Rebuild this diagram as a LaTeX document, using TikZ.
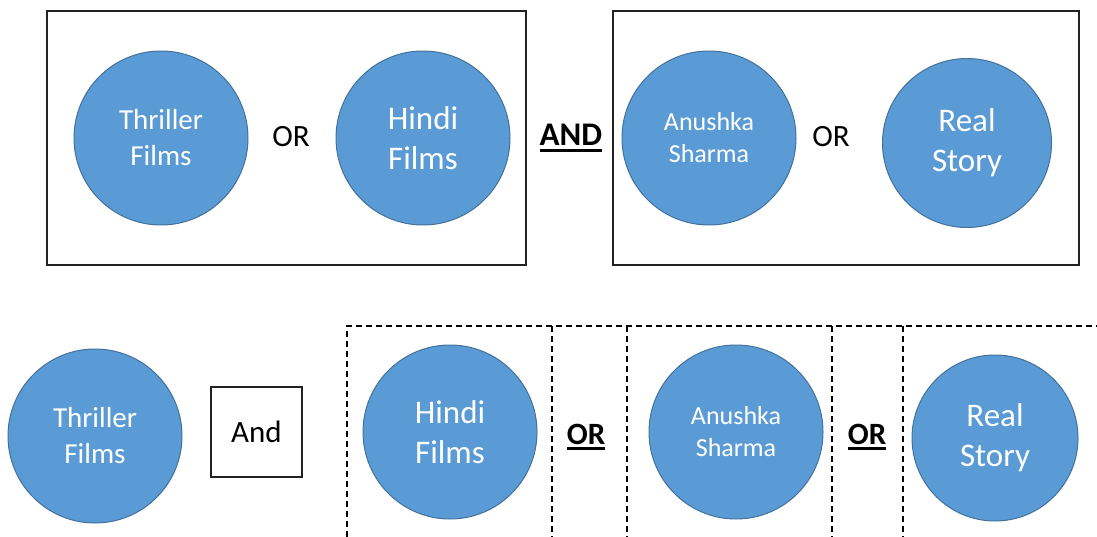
\documentclass[tikz,border=0pt]{standalone}
\usepackage{fontspec}
\setmainfont{Carlito}
\definecolor{circfill}{HTML}{5B9BD5}
\definecolor{circline}{HTML}{41719C}
\definecolor{boxline}{HTML}{222222}
\newcommand\ThickUL[1]{\setbox0=\hbox{#1}\leavevmode\rlap{\rule[-6pt]{\wd0}{2.8pt}}\box0}
\tikzset{
  bubble/.style={circle, fill=circfill, draw=circline, line width=1pt, minimum size=174pt, inner sep=0pt, text=white, align=center},
  txtA/.style={font=\fontsize{29}{36}\selectfont},
  txtB/.style={font=\fontsize{33}{40}\selectfont},
  txtC/.style={font=\fontsize{26}{32}\selectfont},
  optext/.style={font=\fontsize{31}{36}\selectfont, text=black, inner sep=0pt},
  opbold/.style={font=\fontsize{31}{36}\selectfont\bfseries, text=black, inner sep=0pt},
  groupbox/.style={draw=boxline, line width=1.5pt, inner sep=0pt},
  dashline/.style={draw=black, line width=1.2pt, dash pattern=on 6pt off 4pt},
}
\begin{document}
\begin{tikzpicture}[x=1pt,y=-1pt]
\useasboundingbox (0,0) rectangle (1097,537);
% top row boxes
\node[groupbox, minimum width=479pt, minimum height=254pt] (boxL) at (286.5,138) {};
\node[groupbox, minimum width=466pt, minimum height=254pt] (boxR) at (846,138) {};
% top row circles
\node[bubble, txtA] (tThr) at (161,138) {Thriller\\Films};
\node[bubble, txtB] (tHin) at (423,138) {Hindi\\Films};
\node[bubble, txtC] (tAnu) at (709,138) {Anushka\\Sharma};
\node[bubble, txtB, minimum size=169pt] (tRea) at (967,143) {Real\\Story};
\node[optext] (tor1) at (291,137) {OR};
\node[optext] (tor2) at (831,137) {OR};
\node[opbold, font=\fontsize{33}{38}\selectfont\bfseries] (tand) at (571,138) {\ThickUL{AND}};
% bottom row dashed frames
\coordinate (d1b) at (347,537);
\coordinate (d1t) at (347,326);
\coordinate (d2t) at (552,326);
\coordinate (d2b) at (552,537);
\coordinate (d3b) at (627,537);
\coordinate (d3t) at (627,326);
\coordinate (d4t) at (832,326);
\coordinate (d4b) at (832,537);
\coordinate (d5b) at (903,537);
\coordinate (d5t) at (903,326);
\coordinate (d6t) at (1097,326);
\draw[dashline] (d1b) -- (d1t) -- (d6t);
\draw[dashline] (d2t) -- (d2b);
\draw[dashline] (d3t) -- (d3b);
\draw[dashline] (d4t) -- (d4b);
\draw[dashline] (d5t) -- (d5b);
% bottom row
\node[bubble, txtA] (bThr) at (95,436) {Thriller\\Films};
\node[groupbox, minimum width=91pt, minimum height=90pt, font=\fontsize{31}{36}\selectfont] (bAnd) at (256.5,432) {And};
\node[bubble, txtB] (bHin) at (450,432) {Hindi\\Films};
\node[bubble, txtC] (bAnu) at (736,432) {Anushka\\Sharma};
\node[bubble, txtB, minimum size=166pt] (bRea) at (995,438) {Real\\Story};
\node[opbold] (bor1) at (586,437) {\ThickUL{OR}};
\node[opbold] (bor2) at (867,437) {\ThickUL{OR}};
\end{tikzpicture}
\end{document}
